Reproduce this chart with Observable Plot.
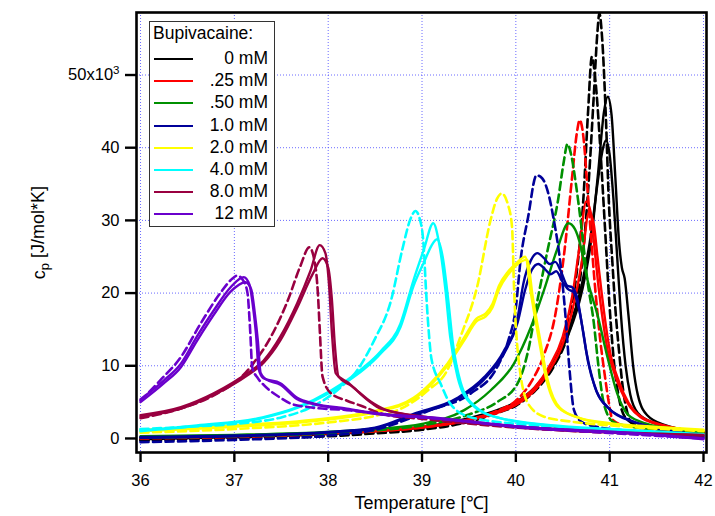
<!DOCTYPE html>
<html>
<head>
<meta charset="utf-8">
<script src="https://cdn.jsdelivr.net/npm/d3@7"></script>
<script src="https://cdn.jsdelivr.net/npm/@observablehq/plot@0.6"></script>
<style>
  html, body { margin: 0; padding: 0; background: #fff; }
  #wrap { position: relative; width: 715px; height: 516px; font-family: "Liberation Sans", Arial, Helvetica, sans-serif; }
  #legend { position: absolute; left: 149px; top: 21px; width: 126px; height: 206px; border: 1px solid #333; background: #fff; box-sizing: border-box; font-size: 17.5px; color: #000; }
  #legend .title { position: absolute; left: 3px; top: 1px; }
  #legend .row { position: absolute; left: 0; width: 118px; height: 20px; }
  #legend .sw { position: absolute; left: 4px; top: 10px; width: 39px; height: 0; border-top: 2.5px solid; }
  #legend .lab { position: absolute; right: 0; top: 0; }
</style>
</head>
<body>
<div id="wrap"><div id="chart"></div><div id="legend"></div></div>
<script>
// Concentrations (legend) and colours
const concentrations = ["0 mM", ".25 mM", ".50 mM", "1.0 mM", "2.0 mM", "4.0 mM", "8.0 mM", "12 mM"];
const colors = ["#000000", "#ff0000", "#009000", "#000099", "#ffff00", "#00ffff", "#990040", "#6a00cc"];
const xTicks = [36, 37, 38, 39, 40, 41, 42];
const yTicks = [0, 10, 20, 30, 40, 50];   // in 10^3 J/mol*K

// Curves: [temperature °C, cp in 10^3 J/mol*K]; h = solid scans, c = dashed scans
const bk_h1 = [[36,-0.1],[37,0.2],[38,0.6],[38.5,1],[39,1.5],[39.5,2.6],[39.8,3.7],[40,4.8],[40.2,6.8],[40.4,10],[40.55,14],[40.7,20],[40.8,27],[40.88,37],[40.94,45],[40.98,47],[41.02,44.5],[41.06,36],[41.1,27],[41.13,23.5],[41.16,22],[41.2,17],[41.25,10],[41.3,6],[41.4,3.2],[41.6,1.8],[41.8,1.2],[42,0.9]];
const bk_h2 = [[36,0],[37,0.3],[38,0.7],[38.5,1.1],[39,1.6],[39.5,2.8],[39.8,3.9],[40,5],[40.2,7],[40.4,10.5],[40.55,14.5],[40.7,21],[40.8,28],[40.88,36],[40.93,40],[40.96,41],[41,39],[41.04,33],[41.08,25],[41.12,17],[41.17,10],[41.22,6],[41.3,3.5],[41.5,2],[41.8,1.2],[42,0.9]];
const bk_c1 = [[36,-0.3],[37,0],[38,0.3],[38.5,0.7],[39,1.2],[39.5,2.3],[39.8,3.5],[40,4.5],[40.2,6.5],[40.4,9.8],[40.55,14],[40.65,19],[40.72,26],[40.78,36],[40.83,47],[40.87,56],[40.89,58.5],[40.92,55],[40.96,44],[40.99,33],[41.03,24],[41.06,18],[41.1,12],[41.14,7],[41.18,4],[41.22,2.4],[41.35,1.6],[41.6,1.2],[42,0.8]];
const bk_c2 = [[36,-0.2],[37,0.1],[38,0.4],[38.5,0.8],[39,1.3],[39.5,2.4],[39.8,3.6],[40,4.7],[40.2,6.8],[40.4,10.5],[40.55,16],[40.65,23],[40.72,33],[40.77,45],[40.81,52.5],[40.85,49],[40.9,40],[40.95,29],[41,18],[41.05,10],[41.1,5.5],[41.16,3],[41.3,1.8],[41.6,1.2],[42,0.8]];

const rd_h1 = [[36,0.2],[37,0.4],[38,0.8],[38.5,1.1],[39,1.6],[39.5,2.6],[39.8,3.7],[40,4.9],[40.2,7],[40.35,9.8],[40.5,14],[40.6,19.5],[40.68,26.5],[40.75,32.6],[40.8,31],[40.84,26],[40.88,21],[40.93,16],[40.98,12],[41.05,9],[41.12,6.6],[41.22,4.3],[41.33,2.9],[41.5,2],[41.8,1.2],[42,0.9]];
const rd_h2 = [[36,0.1],[37,0.3],[38,0.7],[38.5,1],[39,1.5],[39.5,2.5],[39.8,3.5],[40,4.6],[40.2,6.6],[40.35,9.2],[40.5,13],[40.6,17.5],[40.7,24],[40.78,31.1],[40.83,29.5],[40.87,25],[40.91,20.5],[40.96,15.5],[41.01,11.5],[41.08,8.5],[41.15,6.2],[41.25,4],[41.36,2.8],[41.55,1.9],[41.8,1.2],[42,0.9]];
const rd_c1 = [[36,0],[37,0.2],[38,0.6],[38.5,1],[39,1.5],[39.5,2.6],[39.8,3.8],[40,5.2],[40.15,7.5],[40.3,11.5],[40.42,17],[40.52,26],[40.6,36],[40.65,42],[40.68,43.8],[40.72,41.5],[40.76,35],[40.8,28],[40.85,20],[40.9,13.5],[40.95,8.5],[40.99,5],[41.03,2.6],[41.15,1.8],[41.6,1.2],[42,0.8]];

const gn_h1 = [[36,0.3],[37,0.5],[38,0.9],[38.5,1.3],[39,2],[39.45,3.9],[39.73,6.6],[39.98,10.3],[40.16,15.3],[40.3,20.4],[40.44,26],[40.56,29.6],[40.63,28.8],[40.69,26.5],[40.76,22],[40.87,17],[40.98,11],[41.08,6.2],[41.2,3.2],[41.4,2],[41.7,1.3],[42,0.8]];
const gn_c1 = [[36,0.1],[37,0.3],[38,0.7],[38.5,1.1],[39,1.8],[39.5,3.3],[39.8,5],[40.02,7.6],[40.13,12],[40.23,19],[40.34,26],[40.45,32.8],[40.51,38],[40.55,40.5],[40.59,39],[40.64,35],[40.7,29],[40.76,22],[40.83,16],[40.88,10],[40.92,6],[40.97,3.5],[41.05,2.2],[41.3,1.5],[41.7,1.1],[42,0.7]];

const bl_h1 = [[36,0.2],[37,0.4],[38,0.9],[38.5,1.5],[38.91,3.4],[39.38,5.6],[39.66,8.4],[39.87,12],[40.02,16.7],[40.08,21.3],[40.16,24.5],[40.23,25.5],[40.3,24.8],[40.36,24],[40.42,24.3],[40.48,23],[40.55,21],[40.6,20.8],[40.66,19],[40.7,16],[40.75,12],[40.83,7.6],[40.98,4.3],[41.22,2.5],[41.6,1.2],[42,0.4]];
const bl_h2 = [[36,0.1],[37,0.3],[38,0.8],[38.5,1.4],[38.91,3.2],[39.38,5.4],[39.66,8.1],[39.87,11.6],[40.02,16],[40.1,20.5],[40.17,23.2],[40.24,24],[40.31,23.3],[40.37,22.6],[40.43,23],[40.5,21.5],[40.56,20.5],[40.61,20.2],[40.67,18],[40.72,14.5],[40.77,10.5],[40.86,6.5],[41,4],[41.25,2.3],[41.6,1.1],[42,0.3]];
const bl_c1 = [[36,-0.5],[37,-0.2],[38,0.4],[38.5,1.2],[39.09,3.9],[39.52,6.2],[39.8,9.8],[39.92,13.5],[40,18],[40.05,24.5],[40.13,30.4],[40.22,36.2],[40.28,35.8],[40.34,34],[40.4,30.4],[40.48,23.5],[40.53,16.7],[40.57,9.8],[40.62,3.9],[40.7,2.3],[40.9,1.5],[41.5,0.8],[42,0.1]];

const yl_h1 = [[36,1.2],[37,1.8],[38,2.8],[38.5,3.8],[38.91,5.6],[39.09,7.6],[39.27,10.3],[39.45,13.9],[39.58,16.5],[39.68,17.2],[39.75,18.5],[39.82,21],[39.92,23],[40.02,24.3],[40.1,25],[40.16,20],[40.24,14],[40.32,8.4],[40.45,4.3],[40.66,2.9],[41,2.1],[41.5,1.6],[42,1.2]];
const yl_h2 = [[36,1],[37,1.6],[38,2.6],[38.5,3.6],[38.91,5.4],[39.09,7.3],[39.27,10],[39.45,13.5],[39.58,16.1],[39.68,16.8],[39.75,18],[39.82,20.5],[39.92,22.6],[40.02,24],[40.12,24.6],[40.18,19.5],[40.26,13.5],[40.34,8],[40.47,4.2],[40.68,2.8],[41,2],[41.5,1.5],[42,1.1]];
const yl_c1 = [[36,0.8],[37,1.3],[38,2.2],[38.5,3.1],[38.74,3.9],[39.06,6.6],[39.27,9.4],[39.41,14],[39.59,21],[39.73,30],[39.8,33],[39.85,33.7],[39.92,32],[39.96,29],[39.98,21],[40.02,12],[40.13,4.8],[40.3,3],[40.6,2.3],[41,1.8],[42,1]];

const cy_h1 = [[36,1.1],[36.6,1.8],[37.3,2.9],[37.67,4.3],[38.03,6.6],[38.2,8],[38.38,9.8],[38.56,12],[38.77,15.8],[38.91,21.8],[39.02,26],[39.12,29.6],[39.18,27],[39.25,20.4],[39.3,14],[39.38,8.4],[39.52,4.8],[39.8,2.9],[40.5,1.7],[41,1.3],[42,0.6]];
const cy_h2 = [[36,1],[36.6,1.7],[37.3,2.8],[37.67,4.2],[38.03,6.4],[38.2,7.8],[38.38,9.5],[38.56,11.7],[38.77,15.3],[38.91,21],[39.03,24.5],[39.1,26.5],[39.16,27.4],[39.22,25],[39.28,19],[39.33,13],[39.41,7.8],[39.55,4.6],[39.83,2.8],[40.5,1.6],[41,1.2],[42,0.5]];
const cy_c1 = [[36,1.3],[36.5,1.6],[37,2],[37.5,2.9],[37.8,4.2],[38.13,7],[38.31,9.4],[38.49,13.5],[38.67,19],[38.79,26],[38.88,30.3],[38.93,31.3],[38.98,30],[39.02,26],[39.04,21],[39.07,15],[39.1,11],[39.2,7.5],[39.3,4.8],[39.5,3],[40,2],[41,1.2],[42,0.5]];

const mr_h1 = [[36,3.2],[36.43,4.3],[36.78,6.2],[37.14,9],[37.31,10.7],[37.49,14],[37.67,18.6],[37.81,23],[37.91,26.6],[37.97,25.5],[38.01,21],[38.04,14.5],[38.08,9],[38.22,7.6],[38.43,5.2],[38.56,4.1],[39.09,2.9],[40.16,1.5],[41,0.9],[42,0.5]];
const mr_h2 = [[36,3],[36.43,4.1],[36.78,6],[37.14,8.7],[37.31,10.4],[37.49,13.5],[37.67,18],[37.83,22.5],[37.94,24.8],[38,23.5],[38.04,19],[38.07,13],[38.11,8.5],[38.25,7.2],[38.46,5],[38.6,4],[39.1,2.8],[40.16,1.4],[41,0.8],[42,0.4]];
const mr_c1 = [[36,2.8],[36.4,4],[36.82,6.2],[37.07,8.4],[37.2,10.3],[37.39,14],[37.57,19],[37.7,23.6],[37.8,26.3],[37.86,24],[37.89,20],[37.91,15],[37.94,8.5],[38.03,6.2],[38.2,5.2],[38.35,4.5],[38.6,3.3],[39,2.7],[40,1.5],[41,0.8],[42,0.4]];

const pu_h1 = [[36,5.4],[36.25,8],[36.43,10.3],[36.6,14],[36.78,17.6],[36.96,20.8],[37.1,22.2],[37.16,21.2],[37.2,18],[37.23,14.5],[37.26,9.5],[37.31,8.3],[37.49,7.6],[37.67,5.6],[37.85,4.8],[38.2,4.1],[38.56,3.4],[39.1,2.9],[40.16,1.5],[41.2,0.8],[42,0]];
const pu_h2 = [[36,5],[36.25,7.6],[36.43,9.8],[36.6,13.4],[36.78,17],[36.96,20.2],[37.12,21.5],[37.18,20.5],[37.22,17],[37.25,13.5],[37.28,9],[37.33,8.2],[37.49,7.4],[37.67,5.4],[37.85,4.7],[38.2,4],[38.56,3.3],[39.1,2.8],[40.16,1.4],[41.2,0.7],[42,-0.1]];
const pu_c1 = [[36,5.2],[36.21,8],[36.43,11.2],[36.64,15.8],[36.85,20],[36.98,22],[37.03,22.4],[37.1,21.6],[37.14,20],[37.17,14.5],[37.19,9.8],[37.25,8.3],[37.31,7.4],[37.49,5.6],[37.6,4.8],[37.8,4.3],[38.2,3.9],[38.6,3.3],[39.1,2.8],[40.16,1.5],[41.2,0.6],[42,0]];

const scans = [
  [0, false, bk_h1], [0, false, bk_h2], [0, true, bk_c1], [0, true, bk_c2],
  [1, false, rd_h1], [1, false, rd_h2], [1, true, rd_c1],
  [2, false, gn_h1], [2, true, gn_c1],
  [3, false, bl_h1], [3, false, bl_h2], [3, true, bl_c1],
  [4, false, yl_h1], [4, false, yl_h2], [4, true, yl_c1],
  [5, false, cy_h1], [5, false, cy_h2], [5, true, cy_c1],
  [6, false, mr_h1], [6, false, mr_h2], [6, true, mr_c1],
  [7, false, pu_h1], [7, false, pu_h2], [7, true, pu_c1]
];

const lineMarks = scans.map(([ci, dashed, pts]) =>
  Plot.line(pts, {
    x: d => d[0], y: d => d[1],
    stroke: colors[ci], strokeWidth: dashed ? 2.6 : 2.4,
    strokeDasharray: dashed ? "8,4.5" : null,
    curve: "monotone-x", clip: true
  })
);

const gridStyle = {stroke: "#5050ff", strokeOpacity: 0.85, strokeWidth: 1, strokeDasharray: "1,2"};

const plot = Plot.plot({
  width: 715, height: 516,
  marginLeft: 136, marginRight: 9, marginTop: 12, marginBottom: 64,
  style: {fontFamily: '"Liberation Sans", Arial, Helvetica, sans-serif', fontSize: "16.5px", color: "#000", background: "#fff"},
  x: {domain: [35.957, 42.032]},
  y: {domain: [-1.93, 58.6]},
  marks: [
    Plot.gridX(xTicks, gridStyle),
    Plot.gridY(yTicks, gridStyle),
    ...lineMarks,
    Plot.frame({stroke: "#000", strokeWidth: 2.6}),
    Plot.axisX(xTicks, {tickSize: 10, tickPadding: 12, strokeWidth: 2.4, fontSize: 16.5,
      label: null, tickFormat: d => String(d)}),
    Plot.axisX({ticks: [], tickSize: 0, label: "Temperature [℃]", labelAnchor: "center", labelArrow: "none", labelOffset: 56, fontSize: 18}),
    Plot.axisY(yTicks, {tickSize: 11, tickPadding: 6, strokeWidth: 2.4, fontSize: 16.5, label: null,
      tickFormat: d => d === 50 ? "50x10³" : String(d)}),
    Plot.axisY({ticks: [], tickSize: 0, label: "c_p [J/mol*K]", labelAnchor: "center", labelArrow: "none", labelOffset: 104, fontSize: 18})
  ]
});

document.getElementById("chart").appendChild(plot);

// Subscript p in the y label, superscript 3 in the 50x10^3 tick
const svg = d3.select(plot);
svg.selectAll("text").each(function() {
  const t = d3.select(this);
  const s = t.text();
  if (s === "c_p [J/mol*K]") {
    t.text(null);
    t.append("tspan").text("c");
    t.append("tspan").attr("dy", "0.3em").attr("font-size", "72%").text("p");
    t.append("tspan").attr("dy", "-0.3em").text(" [J/mol*K]");
  } else if (s === "50x10³") {
    t.text(null);
    t.append("tspan").text("50x10");
    t.append("tspan").attr("dy", "-0.55em").attr("font-size", "70%").text("3");
  }
});

// Legend
const leg = document.getElementById("legend");
const title = document.createElement("div");
title.className = "title"; title.textContent = "Bupivacaine:";
leg.appendChild(title);
concentrations.forEach((c, i) => {
  const row = document.createElement("div");
  row.className = "row";
  row.style.top = (26 + i * 22.2) + "px";
  const sw = document.createElement("div");
  sw.className = "sw"; sw.style.borderTopColor = colors[i];
  const lab = document.createElement("div");
  lab.className = "lab"; lab.textContent = c;
  row.appendChild(sw); row.appendChild(lab);
  leg.appendChild(row);
});
</script>
</body>
</html>
